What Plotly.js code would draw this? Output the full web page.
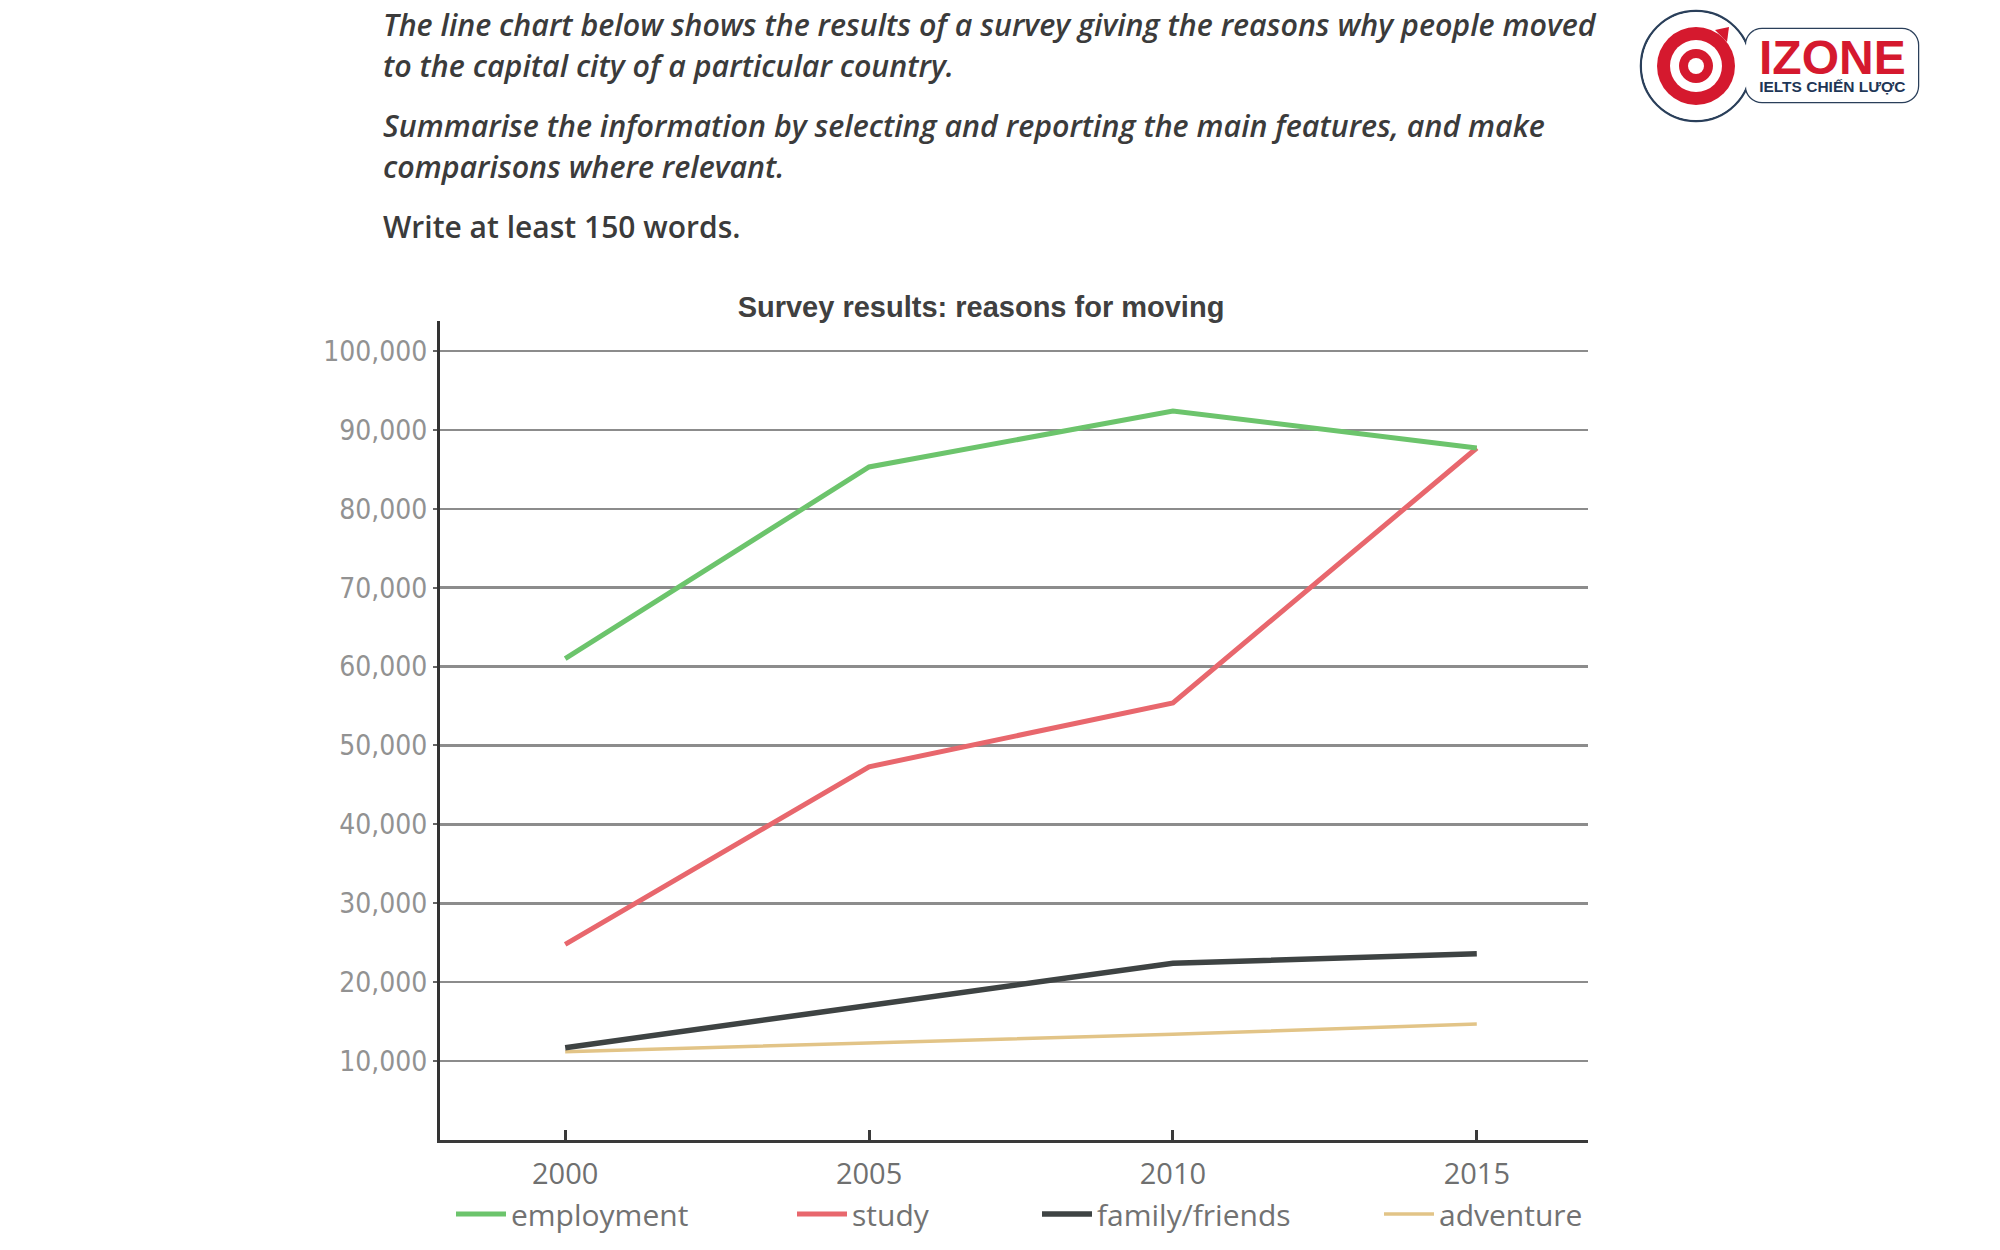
<!DOCTYPE html>
<html>
<head>
<meta charset="utf-8">
<script src="https://cdn.plot.ly/plotly-3.0.1.min.js"></script>
<style>
  html, body { margin: 0; padding: 0; background: #ffffff; }
  #chart { width: 2000px; height: 1250px; }
</style>
</head>
<body>
<div id="chart"></div>
<script>
// ---------- data ----------
const years = [2000, 2005, 2010, 2015];
const employment = [61000, 85300, 92400, 87700];
const study = [24800, 47300, 55400, 87700];
const familyFriends = [11700, 17100, 22400, 23600];
const adventure = [11200, 12300, 13400, 14700];

const seriesNames = ['employment', 'study', 'family/friends', 'adventure'];
const yTickVals = [10000, 20000, 30000, 40000, 50000, 60000, 70000, 80000, 90000, 100000];
const yTickText = ['10,000', '20,000', '30,000', '40,000', '50,000', '60,000', '70,000', '80,000', '90,000', '100,000'];
const xTickVals = [2000, 2005, 2010, 2015];
const xTickText = ['2000', '2005', '2010', '2015'];

const titleText = 'Survey results: reasons for moving';
const promptLines = [
  'The line chart below shows the results of a survey giving the reasons why people moved',
  'to the capital city of a particular country.',
  'Summarise the information by selecting and reporting the main features, and make',
  'comparisons where relevant.'
];
const wordsLine = 'Write at least 150 words.';
const logoMain = 'IZONE';
const logoSub = 'IELTS CHIẾN LƯỢC';

// ---------- layout geometry (pixels) ----------
const W = 2000, H = 1250;
const L = 440, R = 1588, T = 321, B = 1140;
function PX(x) { return (x - L) / (R - L); }
function PY(y) { return (B - y) / (B - T); }

const colors = ['#6cc46c', '#e8676d', '#3e4343', '#e2c487'];
const widths = [5, 5, 5.5, 3.5];
const seriesData = [employment, study, familyFriends, adventure];
const legendIds = ['legend', 'legend2', 'legend3', 'legend4'];

const traces = seriesData.map((vals, i) => ({
  type: 'scatter',
  mode: 'lines',
  x: years,
  y: vals,
  name: seriesNames[i],
  line: { color: colors[i], width: widths[i] },
  legend: legendIds[i],
  hoverinfo: 'skip'
}));
// draw order: adventure, family, study, employment (employment on top)
const ordered = [traces[3], traces[2], traces[1], traces[0]];

const legendFont = { family: 'Open Sans, Liberation Sans, sans-serif', size: 30, color: '#727272' };
const legendX = [451, 792, 1037, 1379];
function mkLegend(px) {
  return {
    orientation: 'h',
    xref: 'container', yref: 'container',
    x: px / W, y: 1 - 1214 / H,
    xanchor: 'left', yanchor: 'middle',
    bgcolor: 'rgba(0,0,0,0)', borderwidth: 0,
    itemwidth: 50,
    font: legendFont
  };
}

const textColor = '#3b3b3b';
const promptFont = { family: 'Open Sans, Liberation Sans, sans-serif', size: 30.4, color: textColor, style: 'italic', weight: 600 };
const promptY = [25, 65, 126, 166];
const annotations = promptLines.map((t, i) => ({
  text: t, xref: 'paper', yref: 'paper',
  x: PX(381), y: PY(promptY[i]), xanchor: 'left', yanchor: 'middle',
  showarrow: false, font: promptFont
}));
annotations.push({
  text: wordsLine, xref: 'paper', yref: 'paper',
  x: PX(381), y: PY(227), xanchor: 'left', yanchor: 'middle',
  showarrow: false,
  font: { family: 'Open Sans, Liberation Sans, sans-serif', size: 30, color: textColor, weight: 600 }
});
// logo text (one block, two lines)
annotations.push({
  text: '<b><span style="font-size:48px;color:#d5192e">' + logoMain + '</span><br>' +
        '<span style="font-size:15.5px;color:#1e3656">' + logoSub + '</span></b>',
  xref: 'paper', yref: 'paper',
  x: PX(1832), y: PY(63), xanchor: 'center', yanchor: 'middle',
  showarrow: false,
  font: { family: 'Liberation Sans, Arial, sans-serif', size: 13.5, color: '#1e3656' }
});

function circle(cx, cy, r, fill, line) {
  return {
    type: 'circle', xref: 'paper', yref: 'paper',
    x0: PX(cx - r), x1: PX(cx + r), y0: PY(cy + r), y1: PY(cy - r),
    fillcolor: fill, line: line || { width: 0 }, layer: 'above'
  };
}
function roundRect(x0, y0, x1, y1, rad, fill, line) {
  const p = (x, y) => PX(x) + ',' + PY(y);
  const k = 0.55 * rad;
  const path = 'M' + p(x0 + rad, y0) + ' L' + p(x1 - rad, y0) +
    ' C' + p(x1 - rad + k, y0) + ' ' + p(x1, y0 + rad - k) + ' ' + p(x1, y0 + rad) +
    ' L' + p(x1, y1 - rad) +
    ' C' + p(x1, y1 - rad + k) + ' ' + p(x1 - rad + k, y1) + ' ' + p(x1 - rad, y1) +
    ' L' + p(x0 + rad, y1) +
    ' C' + p(x0 + rad - k, y1) + ' ' + p(x0, y1 - rad + k) + ' ' + p(x0, y1 - rad) +
    ' L' + p(x0, y0 + rad) +
    ' C' + p(x0, y0 + rad - k) + ' ' + p(x0 + rad - k, y0) + ' ' + p(x0 + rad, y0) + ' Z';
  return { type: 'path', xref: 'paper', yref: 'paper', path: path,
    fillcolor: fill, line: line || { width: 0 }, layer: 'above' };
}
const navy = '#2a3f5a';
const red = '#d5192e';
const cx = 1696, cy = 66;
const shapes = [
  roundRect(1746, 29, 1918, 102, 16, 'rgba(0,0,0,0)', { color: navy, width: 2.5 }),
  circle(cx, cy, 55, 'rgba(0,0,0,0)', { color: navy, width: 2.5 }),
  roundRect(1746, 29, 1918, 102, 16, '#ffffff'),
  circle(cx, cy, 54, '#ffffff'),
  circle(cx, cy, 39, red),
  { type: 'path', xref: 'paper', yref: 'paper', layer: 'above',
    path: 'M' + PX(1715) + ',' + PY(30) + ' L' + PX(1729) + ',' + PY(27) + ' L' + PX(1727) + ',' + PY(42) + ' Z',
    fillcolor: red, line: { width: 0 } },
  circle(cx, cy, 26, '#ffffff'),
  circle(cx, cy, 17, red),
  circle(cx, cy, 8, '#ffffff')
];

const layout = {
  width: W, height: H,
  paper_bgcolor: '#ffffff', plot_bgcolor: '#ffffff',
  margin: { l: L, r: W - R, t: T, b: H - B, pad: 0 },
  title: {
    text: titleText,
    xref: 'container', yref: 'container',
    x: 981 / W, y: 1 - 307 / H, xanchor: 'center', yanchor: 'middle',
    font: { family: 'Liberation Sans, Arial, sans-serif', size: 29, color: '#404040', weight: 'bold' }
  },
  xaxis: {
    range: [1997.94, 2016.83],
    tickvals: xTickVals, ticktext: xTickText,
    showgrid: false, zeroline: false,
    showline: true, linecolor: '#3a3a3a', linewidth: 3,
    ticks: 'inside', ticklen: 10, tickwidth: 3, tickcolor: '#3a3a3a',
    ticklabelstandoff: 6,
    tickfont: { family: 'Open Sans, Liberation Sans, sans-serif', size: 29, color: '#6f7070' },
    fixedrange: true
  },
  yaxis: {
    range: [0, 103800],
    tickvals: yTickVals, ticktext: yTickText,
    showgrid: true, gridcolor: '#8c8c8c', gridwidth: 2.5,
    zeroline: false,
    showline: true, linecolor: '#333333', linewidth: 3,
    ticks: 'outside', ticklen: 4, tickwidth: 2, tickcolor: '#666666',
    ticklabelstandoff: 0,
    tickfont: { family: 'DejaVu Sans Condensed, DejaVu Sans, sans-serif', size: 28, color: '#929292' },
    fixedrange: true
  },
  legend: mkLegend(legendX[0]),
  legend2: mkLegend(legendX[1]),
  legend3: mkLegend(legendX[2]),
  legend4: mkLegend(legendX[3]),
  showlegend: true,
  annotations: annotations,
  shapes: shapes
};

Plotly.newPlot('chart', ordered, layout, { staticPlot: true, displayModeBar: false });
</script>
</body>
</html>
